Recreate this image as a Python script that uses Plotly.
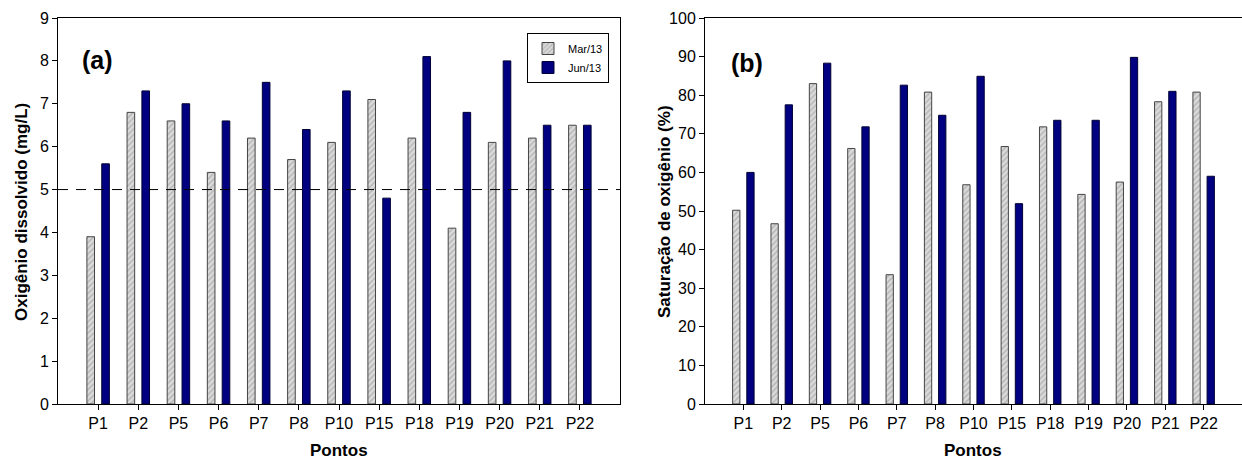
import plotly.graph_objects as go

pontos = ["P1", "P2", "P5", "P6", "P7", "P8", "P10", "P15", "P18", "P19", "P20", "P21", "P22"]
od_mar = [3.9, 6.8, 6.6, 5.4, 6.2, 5.7, 6.1, 7.1, 6.2, 4.1, 6.1, 6.2, 6.5]
od_jun = [5.6, 7.3, 7.0, 6.6, 7.5, 6.4, 7.3, 4.8, 8.1, 6.8, 8.0, 6.5, 6.5]
sat_mar = [50.2, 46.7, 83.0, 66.2, 33.5, 80.8, 56.8, 66.7, 71.8, 54.3, 57.5, 78.3, 80.8]
sat_jun = [60.0, 77.5, 88.3, 71.8, 82.6, 74.8, 84.9, 51.9, 73.5, 73.5, 89.8, 81.0, 59.0]
od_limit = 5

idx = list(range(len(pontos)))
FONT = "Arial, Liberation Sans, sans-serif"
W, H = 1242, 461

gray_marker = dict(color="#d4d4d4",
                   pattern=dict(shape="/", fgcolor="#8c8c8c", bgcolor="#dadada", size=4, solidity=0.35),
                   line=dict(color="#444444", width=1))
blue_marker = dict(color="#000080", line=dict(color="#000033", width=1))

fig = go.Figure()
fig.add_trace(go.Bar(x=idx, y=od_mar, width=0.19, offset=-0.28, marker=gray_marker,
                     name="Mar/13", xaxis="x", yaxis="y"))
fig.add_trace(go.Bar(x=idx, y=od_jun, width=0.19, offset=0.09, marker=blue_marker,
                     name="Jun/13", xaxis="x", yaxis="y"))
fig.add_trace(go.Bar(x=idx, y=sat_mar, width=0.19, offset=-0.28, marker=gray_marker,
                     name="Mar/13", xaxis="x2", yaxis="y2", showlegend=False))
fig.add_trace(go.Bar(x=idx, y=sat_jun, width=0.19, offset=0.09, marker=blue_marker,
                     name="Jun/13", xaxis="x2", yaxis="y2", showlegend=False))

ydom = [1 - 404 / H, 1 - 18 / H]
xa = dict(range=[-1, 13], tickvals=idx, ticktext=pontos, ticks="outside", ticklen=5,
          tickcolor="#000", showline=True, linecolor="#000", linewidth=1, showgrid=False,
          zeroline=False, tickfont=dict(family=FONT, size=16, color="#000"), fixedrange=True,
          automargin=False)
ya = dict(ticks="outside", ticklen=5, tickcolor="#000", showline=True, linecolor="#000",
          linewidth=1, showgrid=False, zeroline=False, automargin=False,
          tickfont=dict(family=FONT, size=16, color="#000"), domain=ydom)

fig.update_layout(
    width=W, height=H, margin=dict(l=0, r=0, t=0, b=0, autoexpand=False),
    paper_bgcolor="white", plot_bgcolor="white", barmode="overlay",
    font=dict(family=FONT, color="#000"),
    xaxis=dict(xa, domain=[58 / W, 620 / W], anchor="y", mirror=True),
    yaxis=dict(ya, range=[0, 9], dtick=1, anchor="x", mirror=True),
    xaxis2=dict(xa, domain=[705 / W, 1.0], anchor="y2", mirror=True),
    yaxis2=dict(ya, range=[0, 100], dtick=10, anchor="x2"),
    legend=dict(x=527 / W, y=1 - 33 / H, xanchor="left", yanchor="top",
                bordercolor="#000", borderwidth=1, bgcolor="white",
                font=dict(family=FONT, size=11, color="#000"),
                itemwidth=30, tracegroupgap=0),
    showlegend=True,
)

fig.add_shape(type="line", xref="x domain", yref="y", x0=0, x1=1, y0=od_limit, y1=od_limit,
              line=dict(color="#000", width=1, dash="10px,8px"))

ann = [
    dict(text="<b>(a)</b>", x=97 / W, y=1 - 60 / H, size=25),
    dict(text="<b>(b)</b>", x=747 / W, y=1 - 63 / H, size=25),
    dict(text="<b>Pontos</b>", x=339 / W, y=1 - 450 / H, size=17),
    dict(text="<b>Pontos</b>", x=973 / W, y=1 - 450 / H, size=17),
]
for a in ann:
    fig.add_annotation(text=a["text"], x=a["x"], y=a["y"], xref="paper", yref="paper",
                       showarrow=False, xanchor="center", yanchor="middle",
                       font=dict(family=FONT, size=a["size"], color="#000"))
fig.add_annotation(text="<b>Oxigênio dissolvido (mg/L)</b>", x=21 / W, y=1 - 212 / H,
                   xref="paper", yref="paper", showarrow=False, textangle=-90,
                   xanchor="center", yanchor="middle", font=dict(family=FONT, size=17, color="#000"))
fig.add_annotation(text="<b>Saturação de oxigênio (%)</b>", x=664 / W, y=1 - 212 / H,
                   xref="paper", yref="paper", showarrow=False, textangle=-90,
                   xanchor="center", yanchor="middle", font=dict(family=FONT, size=17, color="#000"))

fig.write_html("out.html", config={"displayModeBar": False},
               post_script="document.body.style.margin='0';document.body.style.overflow='hidden';")
